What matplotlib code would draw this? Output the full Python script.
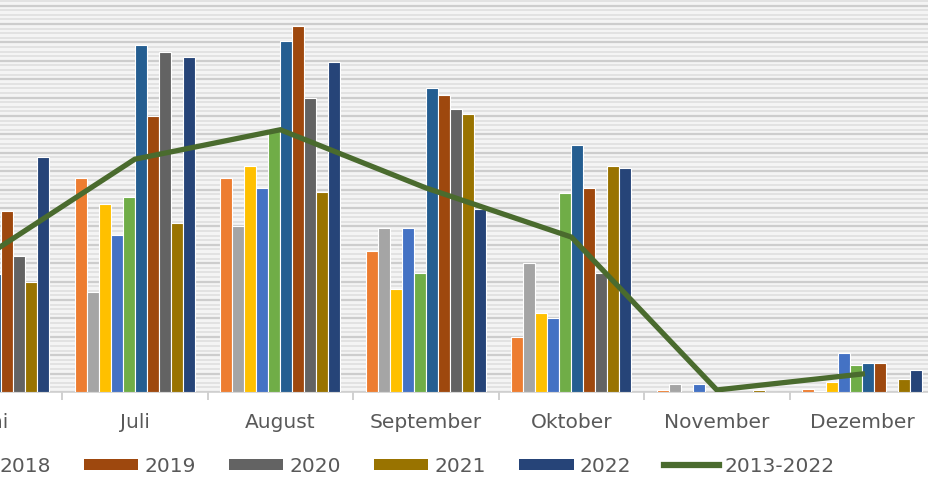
import matplotlib
matplotlib.use("Agg")
import matplotlib.pyplot as plt
from matplotlib.ticker import MultipleLocator
from matplotlib.patches import Patch
from matplotlib.lines import Line2D
import numpy as np

# Months visible in the chart (Juni is cut at the left edge)
months = ['Juni', 'Juli', 'August', 'September', 'Oktober', 'November', 'Dezember']
years = ['2013', '2014', '2015', '2016', '2017', '2018', '2019', '2020', '2021', '2022']

# values per year, Juni..Dezember
v2013 = [81.5, 116.3, 116.3, 76.6, 29.9, 1.1, 1.6]
v2014 = [48.9, 54.3, 90.2, 89.1, 70.1, 4.3, 0.5]
v2015 = [70.7, 102.2, 122.8, 56.0, 42.9, 0.0, 5.4]
v2016 = [59.8, 85.3, 110.9, 89.1, 40.2, 4.3, 21.2]
v2017 = [65.2, 106.0, 142.9, 64.7, 108.2, 0.0, 14.7]
v2018 = [64.1, 188.6, 190.8, 165.2, 134.2, 0.0, 15.8]
v2019 = [98.4, 150.0, 198.9, 161.4, 110.9, 0.0, 15.8]
v2020 = [73.9, 184.8, 159.8, 153.8, 64.7, 0.0, 0.0]
v2021 = [59.8, 91.8, 108.7, 151.1, 122.8, 1.1, 7.1]
v2022 = [127.7, 182.1, 179.3, 99.5, 121.7, 0.0, 12.0]
avg_2013_2022 = [75.0, 126.5, 142.5, 110.9, 84.2, 1.1, 9.8]

series = [v2013, v2014, v2015, v2016, v2017, v2018, v2019, v2020, v2021, v2022]
colors = ['#ED7D31', '#A5A5A5', '#FFC000', '#4472C4', '#70AD47',
          '#255E91', '#9E480E', '#636363', '#997300', '#264478']
line_color = '#4A6B2E'
text_color = '#595959'

plt.rcParams['font.family'] = ['DejaVu Sans']

fig = plt.figure(figsize=(9.29, 4.83), dpi=100)
ax = fig.add_axes([0, 91 / 483, 1, 392 / 483])
ax.set_facecolor('#F4F4F4')

x = np.arange(len(months))
slot = 0.0825
for k, (vals, col) in enumerate(zip(series, colors)):
    ax.bar(x + (k - 4.5) * slot, vals, width=slot, color=col,
           edgecolor='white', linewidth=0.8, zorder=3)

ax.plot(x, avg_2013_2022, color=line_color, linewidth=3.8, zorder=4,
        solid_joinstyle='miter')

# grid
ax.yaxis.set_major_locator(MultipleLocator(10))
ax.yaxis.set_minor_locator(MultipleLocator(2.5))
ax.grid(axis='y', which='minor', color='#E2E2E2', linewidth=1.4, zorder=0)
ax.grid(axis='y', which='major', color='#CDCDCD', linewidth=1.6, zorder=1)
ax.tick_params(axis='y', which='both', left=False, labelleft=False)

# tick marks at month boundaries
ax.set_xticks(x + 0.5)
ax.set_xticklabels([])
ax.tick_params(axis='x', which='major', length=6, width=1.2, color='#C8C8C8')

# limits after the ticks, so set_xticks cannot widen them
ax.set_xlim(0.0735, 6.458)
ax.set_ylim(0, 213)

# month names as texts (Juni sits half outside the left edge)
for i, m in zip(x, months):
    ax.text(i, -30 / 392, m, transform=ax.get_xaxis_transform(),
            ha='center', va='center', fontsize=14.5, color=text_color,
            clip_on=False)

for s in ['left', 'right', 'top']:
    ax.spines[s].set_visible(False)
ax.spines['bottom'].set_color('#D0D0D0')
ax.spines['bottom'].set_linewidth(1.2)

handles = [Patch(facecolor=c, edgecolor='none', label=y) for y, c in zip(years, colors)]
handles.append(Line2D([0], [0], color=line_color, linewidth=4.5, label='2013-2022'))
fig.legend(handles=handles, ncol=11, loc='center right',
           bbox_to_anchor=(853 / 929, 17 / 483), frameon=False,
           fontsize=14.5, labelcolor=text_color, handlelength=2.7,
           handleheight=0.45, handletextpad=0.3, columnspacing=1.65)

fig.savefig('out.png', dpi=100)
